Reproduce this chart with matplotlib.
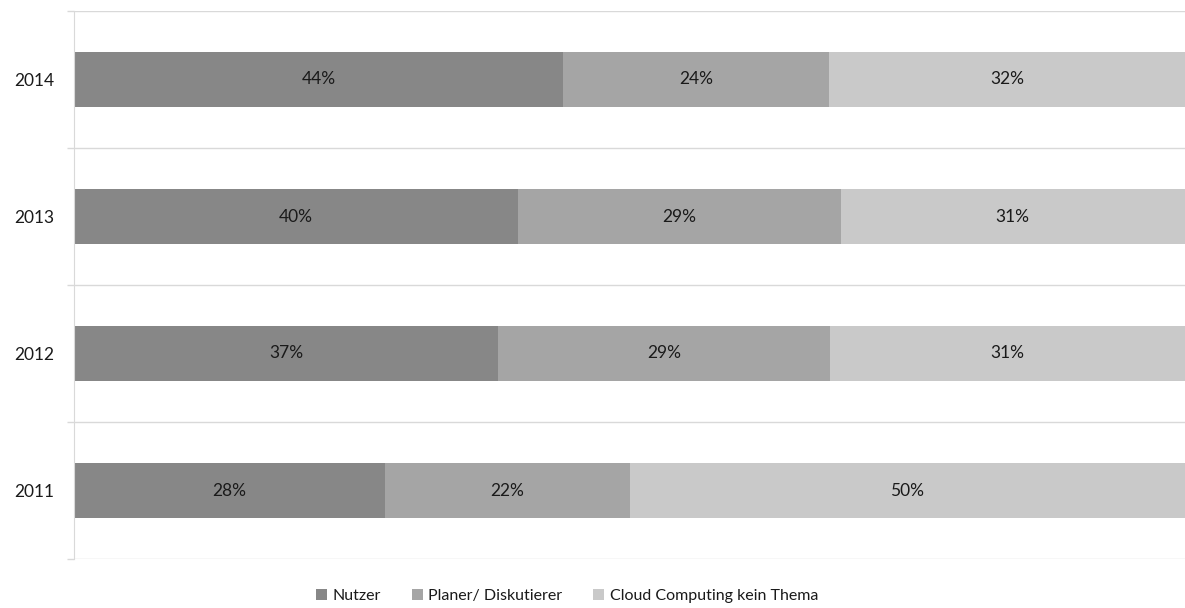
import numpy as np
import matplotlib.pyplot as plt

plt.rcParams['font.family'] = ['Lato', 'DejaVu Sans']

years = ['2011', '2012', '2013', '2014']
nutzer = [28, 37, 40, 44]
planer = [22, 29, 29, 24]
kein_thema = [50, 31, 31, 32]
series = ['Nutzer', 'Planer/ Diskutierer', 'Cloud Computing kein Thema']
colors = ['#878787', '#a5a5a5', '#c9c9c9']

vals = np.array([nutzer, planer, kein_thema], dtype=float)
shares = vals / vals.sum(axis=0)

fig = plt.figure(figsize=(11.85, 6.08), dpi=100)
ax = fig.add_axes([74 / 1185, 49 / 608, 1111 / 1185, 548 / 608])

y = np.arange(len(years))
left = np.zeros(len(years))
for i in range(3):
    bars = ax.barh(y, shares[i], left=left, height=0.395, color=colors[i],
                   label=series[i], zorder=2)
    for j, b in enumerate(bars):
        ax.text(left[j] + shares[i][j] / 2, y[j], '%d%%' % vals[i][j],
                ha='center', va='center', fontsize=12.5, color='#1a1a1a')
    left += shares[i]

ax.set_xlim(0, 1)
ax.set_ylim(-0.5, len(years) - 0.5)
ax.set_yticks(y)
ax.set_yticklabels(years, fontsize=12.5, color='#1a1a1a')
ax.set_xticks([])
ax.set_yticks(np.arange(-0.5, len(years)), minor=True)
ax.grid(axis='y', which='minor', color='#d9d9d9', linewidth=1, zorder=0)
ax.tick_params(axis='y', which='major', length=0, pad=14.5)
ax.tick_params(axis='y', which='minor', length=5, width=1, color='#d9d9d9')
for s in ['top', 'right', 'bottom']:
    ax.spines[s].set_visible(False)
ax.spines['left'].set_color('#d9d9d9')

ax.legend(loc='center', bbox_to_anchor=(493 / 1111, -37 / 548), ncol=3,
          frameon=False, fontsize=11.5, handlelength=0.7, handleheight=0.7,
          handletextpad=0.35, columnspacing=1.9, labelcolor='#1a1a1a')

fig.savefig('out.png', dpi=100)
